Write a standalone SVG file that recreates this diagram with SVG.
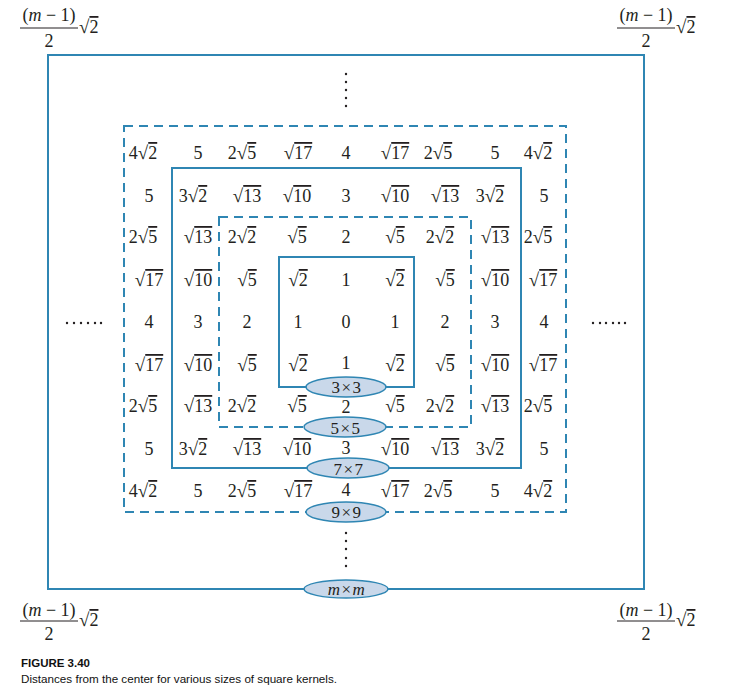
<svg xmlns="http://www.w3.org/2000/svg" width="745" height="691" viewBox="0 0 745 691">
<style>
.t{font-family:"Liberation Serif","Times New Roman",serif;font-size:18px;fill:#231f20;text-anchor:middle}
.s{text-anchor:start}
.r{font-size:19px}
.o{text-decoration:overline}
.i{font-style:italic}
.e{font-size:17px;letter-spacing:1.5px}
.solid{fill:none;stroke:#2f86b3;stroke-width:2}
.dash{fill:none;stroke:#2f86b3;stroke-width:2;stroke-dasharray:9 6}
.bar{stroke:#231f20;stroke-width:1}
.ell{fill:#c9d8ea;stroke:#2f86b3;stroke-width:1.5}
.dot{fill:#231f20}
.cap{font-family:"Liberation Sans",Arial,sans-serif;fill:#111}
</style>
<rect width="745" height="691" fill="#fff"/>
<g id="connectors">
<rect id="frame-m" class="solid" x="48" y="55" width="596" height="534"/>
<rect id="frame-9" class="dash" x="124" y="126" width="442" height="386"/>
<rect id="frame-7" class="solid" x="172" y="168" width="349" height="300"/>
<rect id="frame-5" class="dash" x="219" y="217" width="252" height="210"/>
<rect id="frame-3" class="solid" x="279" y="257" width="135" height="130"/>
</g>
<g id="dots">
<circle class="dot" cx="346" cy="74" r="1.2"/><circle class="dot" cx="346" cy="82" r="1.2"/><circle class="dot" cx="346" cy="90" r="1.2"/><circle class="dot" cx="346" cy="98" r="1.2"/><circle class="dot" cx="346" cy="106" r="1.2"/>
<circle class="dot" cx="346" cy="533" r="1.2"/><circle class="dot" cx="346" cy="541" r="1.2"/><circle class="dot" cx="346" cy="549" r="1.2"/><circle class="dot" cx="346" cy="558" r="1.2"/><circle class="dot" cx="346" cy="566" r="1.2"/>
<circle class="dot" cx="67" cy="323" r="1.2"/><circle class="dot" cx="74" cy="323" r="1.2"/><circle class="dot" cx="81" cy="323" r="1.2"/><circle class="dot" cx="88" cy="323" r="1.2"/><circle class="dot" cx="95" cy="323" r="1.2"/><circle class="dot" cx="101" cy="323" r="1.2"/>
<circle class="dot" cx="593" cy="323" r="1.2"/><circle class="dot" cx="600" cy="323" r="1.2"/><circle class="dot" cx="606" cy="323" r="1.2"/><circle class="dot" cx="613" cy="323" r="1.2"/><circle class="dot" cx="619" cy="323" r="1.2"/><circle class="dot" cx="625" cy="323" r="1.2"/>
</g>
<g id="cells" class="t">
<text x="143" y="159">4<tspan class="r">√</tspan><tspan class="o">2</tspan></text>
<text x="198" y="159">5</text>
<text x="242" y="159">2<tspan class="r">√</tspan><tspan class="o">5</tspan></text>
<text x="298" y="159"><tspan class="r">√</tspan><tspan class="o">17</tspan></text>
<text x="346" y="159">4</text>
<text x="395" y="159"><tspan class="r">√</tspan><tspan class="o">17</tspan></text>
<text x="438" y="159">2<tspan class="r">√</tspan><tspan class="o">5</tspan></text>
<text x="495" y="159">5</text>
<text x="538" y="159">4<tspan class="r">√</tspan><tspan class="o">2</tspan></text>

<text x="149" y="202">5</text>
<text x="193" y="202">3<tspan class="r">√</tspan><tspan class="o">2</tspan></text>
<text x="247" y="202"><tspan class="r">√</tspan><tspan class="o">13</tspan></text>
<text x="297" y="202"><tspan class="r">√</tspan><tspan class="o">10</tspan></text>
<text x="346" y="202">3</text>
<text x="395" y="202"><tspan class="r">√</tspan><tspan class="o">10</tspan></text>
<text x="445" y="202"><tspan class="r">√</tspan><tspan class="o">13</tspan></text>
<text x="490" y="202">3<tspan class="r">√</tspan><tspan class="o">2</tspan></text>
<text x="544" y="202">5</text>

<text x="143" y="243">2<tspan class="r">√</tspan><tspan class="o">5</tspan></text>
<text x="198" y="243"><tspan class="r">√</tspan><tspan class="o">13</tspan></text>
<text x="242" y="243">2<tspan class="r">√</tspan><tspan class="o">2</tspan></text>
<text x="297" y="243"><tspan class="r">√</tspan><tspan class="o">5</tspan></text>
<text x="346" y="243">2</text>
<text x="395" y="243"><tspan class="r">√</tspan><tspan class="o">5</tspan></text>
<text x="440" y="243">2<tspan class="r">√</tspan><tspan class="o">2</tspan></text>
<text x="495" y="243"><tspan class="r">√</tspan><tspan class="o">13</tspan></text>
<text x="538" y="243">2<tspan class="r">√</tspan><tspan class="o">5</tspan></text>

<text x="149" y="286"><tspan class="r">√</tspan><tspan class="o">17</tspan></text>
<text x="198" y="286"><tspan class="r">√</tspan><tspan class="o">10</tspan></text>
<text x="247" y="286"><tspan class="r">√</tspan><tspan class="o">5</tspan></text>
<text x="298" y="286"><tspan class="r">√</tspan><tspan class="o">2</tspan></text>
<text x="346" y="286">1</text>
<text x="395" y="286"><tspan class="r">√</tspan><tspan class="o">2</tspan></text>
<text x="445" y="286"><tspan class="r">√</tspan><tspan class="o">5</tspan></text>
<text x="495" y="286"><tspan class="r">√</tspan><tspan class="o">10</tspan></text>
<text x="543" y="286"><tspan class="r">√</tspan><tspan class="o">17</tspan></text>

<text x="149" y="328">4</text>
<text x="198" y="328">3</text>
<text x="247" y="328">2</text>
<text x="298" y="328">1</text>
<text x="346" y="328">0</text>
<text x="395" y="328">1</text>
<text x="445" y="328">2</text>
<text x="495" y="328">3</text>
<text x="544" y="328">4</text>

<text x="149" y="371"><tspan class="r">√</tspan><tspan class="o">17</tspan></text>
<text x="198" y="371"><tspan class="r">√</tspan><tspan class="o">10</tspan></text>
<text x="247" y="371"><tspan class="r">√</tspan><tspan class="o">5</tspan></text>
<text x="298" y="371"><tspan class="r">√</tspan><tspan class="o">2</tspan></text>
<text x="346" y="369">1</text>
<text x="395" y="371"><tspan class="r">√</tspan><tspan class="o">2</tspan></text>
<text x="445" y="371"><tspan class="r">√</tspan><tspan class="o">5</tspan></text>
<text x="495" y="371"><tspan class="r">√</tspan><tspan class="o">10</tspan></text>
<text x="543" y="371"><tspan class="r">√</tspan><tspan class="o">17</tspan></text>

<text x="143" y="412">2<tspan class="r">√</tspan><tspan class="o">5</tspan></text>
<text x="198" y="412"><tspan class="r">√</tspan><tspan class="o">13</tspan></text>
<text x="242" y="412">2<tspan class="r">√</tspan><tspan class="o">2</tspan></text>
<text x="297" y="412"><tspan class="r">√</tspan><tspan class="o">5</tspan></text>
<text x="346" y="413">2</text>
<text x="395" y="412"><tspan class="r">√</tspan><tspan class="o">5</tspan></text>
<text x="440" y="412">2<tspan class="r">√</tspan><tspan class="o">2</tspan></text>
<text x="495" y="412"><tspan class="r">√</tspan><tspan class="o">13</tspan></text>
<text x="538" y="412">2<tspan class="r">√</tspan><tspan class="o">5</tspan></text>

<text x="149" y="455">5</text>
<text x="193" y="455">3<tspan class="r">√</tspan><tspan class="o">2</tspan></text>
<text x="247" y="455"><tspan class="r">√</tspan><tspan class="o">13</tspan></text>
<text x="297" y="455"><tspan class="r">√</tspan><tspan class="o">10</tspan></text>
<text x="346" y="454">3</text>
<text x="395" y="455"><tspan class="r">√</tspan><tspan class="o">10</tspan></text>
<text x="445" y="455"><tspan class="r">√</tspan><tspan class="o">13</tspan></text>
<text x="490" y="455">3<tspan class="r">√</tspan><tspan class="o">2</tspan></text>
<text x="544" y="455">5</text>

<text x="143" y="497">4<tspan class="r">√</tspan><tspan class="o">2</tspan></text>
<text x="198" y="497">5</text>
<text x="242" y="497">2<tspan class="r">√</tspan><tspan class="o">5</tspan></text>
<text x="298" y="497"><tspan class="r">√</tspan><tspan class="o">17</tspan></text>
<text x="346" y="496">4</text>
<text x="395" y="497"><tspan class="r">√</tspan><tspan class="o">17</tspan></text>
<text x="438" y="497">2<tspan class="r">√</tspan><tspan class="o">5</tspan></text>
<text x="495" y="497">5</text>
<text x="538" y="497">4<tspan class="r">√</tspan><tspan class="o">2</tspan></text>
</g>
<g id="node-3x3"><ellipse class="ell" cx="346" cy="387" rx="40" ry="10"/><text class="t e" x="347" y="392.5">3×3</text></g>
<g id="node-5x5"><ellipse class="ell" cx="345" cy="427" rx="41" ry="10"/><text class="t e" x="346" y="433.5">5×5</text></g>
<g id="node-7x7"><ellipse class="ell" cx="348" cy="468" rx="41" ry="10"/><text class="t e" x="349" y="474.5">7×7</text></g>
<g id="node-9x9"><ellipse class="ell" cx="346" cy="512" rx="40" ry="10"/><text class="t e" x="347" y="518">9×9</text></g>
<g id="node-mxm"><ellipse class="ell" cx="346" cy="589" rx="42" ry="9"/><text class="t e" x="347" y="595"><tspan class="i">m</tspan>×<tspan class="i">m</tspan></text></g>
<g id="label-tl" class="t">
<text x="49" y="21">(<tspan class="i">m</tspan> − 1)</text>
<line class="bar" x1="20" y1="28" x2="78" y2="28"/>
<text x="49" y="47">2</text>
<text class="s" x="79" y="33"><tspan class="r">√</tspan><tspan class="o">2</tspan></text>
</g>
<g id="label-tr" class="t">
<text x="646" y="21">(<tspan class="i">m</tspan> − 1)</text>
<line class="bar" x1="617" y1="28" x2="675" y2="28"/>
<text x="646" y="47">2</text>
<text class="s" x="676" y="33"><tspan class="r">√</tspan><tspan class="o">2</tspan></text>
</g>
<g id="label-bl" class="t">
<text x="49" y="616">(<tspan class="i">m</tspan> − 1)</text>
<line class="bar" x1="20" y1="621" x2="78" y2="621"/>
<text x="49" y="640">2</text>
<text class="s" x="79" y="626"><tspan class="r">√</tspan><tspan class="o">2</tspan></text>
</g>
<g id="label-br" class="t">
<text x="646" y="616">(<tspan class="i">m</tspan> − 1)</text>
<line class="bar" x1="617" y1="621" x2="675" y2="621"/>
<text x="646" y="640">2</text>
<text class="s" x="676" y="626"><tspan class="r">√</tspan><tspan class="o">2</tspan></text>
</g>
<g id="caption">
<text class="cap" x="21" y="667" font-size="11.5" font-weight="bold" textLength="69" lengthAdjust="spacingAndGlyphs">FIGURE 3.40</text>
<text class="cap" x="21" y="683" font-size="11" textLength="316" lengthAdjust="spacingAndGlyphs">Distances from the center for various sizes of square kernels.</text>
</g>
</svg>
